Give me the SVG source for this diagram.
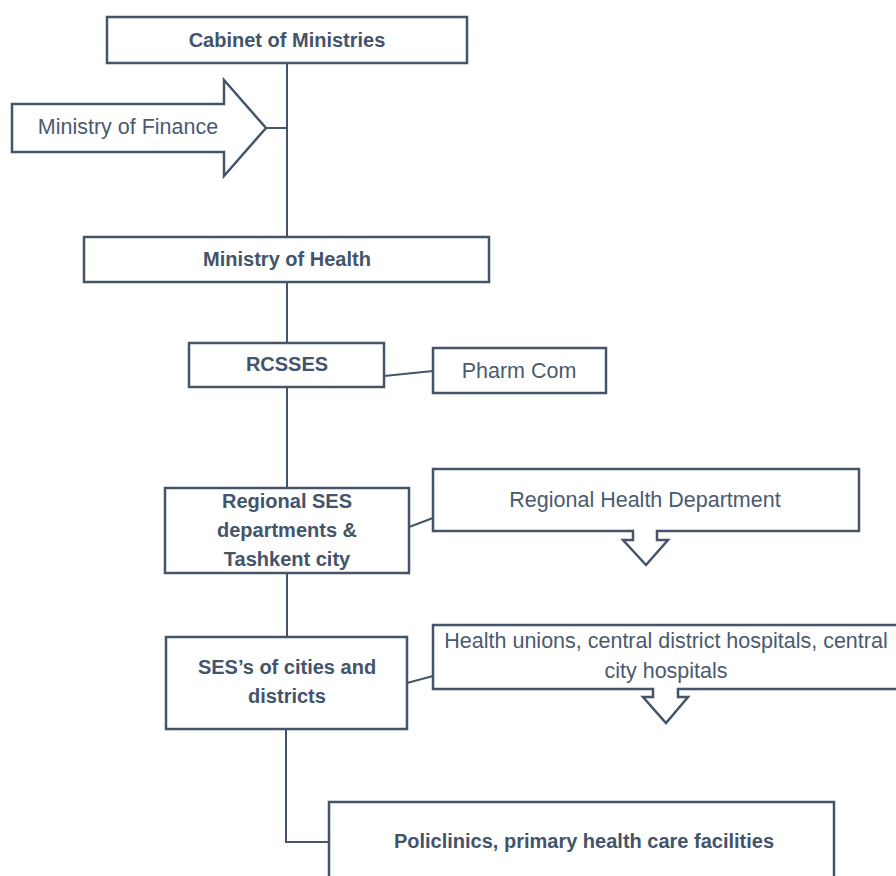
<svg xmlns="http://www.w3.org/2000/svg" width="896" height="876" viewBox="0 0 896 876">
<style>
.box{fill:#ffffff;stroke:#44546A;stroke-width:2.5}
.con{fill:none;stroke:#44546A;stroke-width:2}
.b{font-family:"Liberation Sans",Arial,sans-serif;font-weight:bold;font-size:20px;fill:#44546A;text-anchor:middle}
.r{font-family:"Liberation Sans",Arial,sans-serif;font-size:21.5px;fill:#4A5A70;text-anchor:middle}
</style>
<rect width="896" height="876" fill="#ffffff"/>
<g id="connectors">
<line class="con" x1="287" y1="63" x2="287" y2="237"/>
<line class="con" x1="266" y1="128" x2="287" y2="128"/>
<line class="con" x1="287" y1="282" x2="287" y2="343"/>
<line class="con" x1="384" y1="376" x2="433" y2="371"/>
<line class="con" x1="287" y1="387" x2="287" y2="488"/>
<line class="con" x1="409" y1="527" x2="433" y2="518"/>
<line class="con" x1="287" y1="573" x2="287" y2="637"/>
<line class="con" x1="407" y1="683" x2="433" y2="676"/>
<polyline class="con" points="286,729 286,842 329,842"/>
</g>
<g id="cabinet">
<rect class="box" x="107" y="17" width="360" height="46"/>
<text class="b" x="287" y="47">Cabinet of Ministries</text>
</g>
<g id="finance">
<path class="box" d="M12,104 H224 V80 L266,128 L224,176 V152 H12 Z"/>
<text class="r" x="128" y="134">Ministry of Finance</text>
</g>
<g id="health">
<rect class="box" x="84" y="237" width="405" height="45"/>
<text class="b" x="287" y="266">Ministry of Health</text>
</g>
<g id="rcsses">
<rect class="box" x="189" y="343" width="195" height="44"/>
<text class="b" x="287" y="371">RCSSES</text>
</g>
<g id="pharmcom">
<rect class="box" x="433" y="348" width="173" height="45"/>
<text class="r" x="519" y="378">Pharm Com</text>
</g>
<g id="regional-ses">
<rect class="box" x="165" y="488" width="244" height="85"/>
<text class="b" x="287" y="508">Regional SES</text>
<text class="b" x="287" y="537">departments &amp;</text>
<text class="b" x="287" y="566">Tashkent city</text>
</g>
<g id="regional-health">
<path class="box" d="M433,469 H859 V531 H657 V540 H668 L646,565 L623,540 H633 V531 H433 Z"/>
<text class="r" x="645" y="507">Regional Health Department</text>
</g>
<g id="ses-cities">
<rect class="box" x="166" y="637" width="241" height="92"/>
<text class="b" x="287" y="674">SES’s of cities and</text>
<text class="b" x="287" y="703">districts</text>
</g>
<g id="health-unions">
<path class="box" d="M433,625 H900 V689 H678 V697 H688 L666,723 L643,697 H653 V689 H433 Z"/>
<text class="r" x="666" y="648">Health unions, central district hospitals, central</text>
<text class="r" x="666" y="678">city hospitals</text>
</g>
<g id="policlinics">
<rect class="box" x="329" y="802" width="505" height="90"/>
<text class="b" x="584" y="848">Policlinics, primary health care facilities</text>
</g>
</svg>
